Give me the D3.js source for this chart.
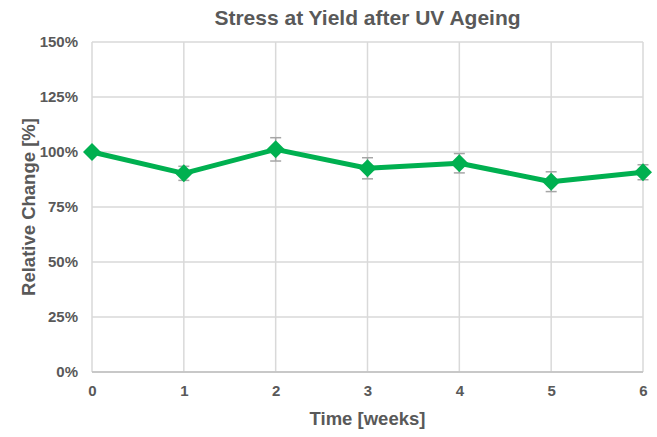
<!DOCTYPE html>
<html><head><meta charset="utf-8">
<script src="https://cdn.jsdelivr.net/npm/d3@7"></script>
<style>body{margin:0;background:#fff}svg{display:block}text{font-family:"Liberation Sans",Arial,sans-serif;font-weight:bold;fill:#595959}</style>
</head><body><svg id="c" width="657" height="437"></svg>
<script>
const weeks = [0, 1, 2, 3, 4, 5, 6];
const relChange = [100, 90.3, 101.2, 92.6, 94.9, 86.5, 90.8];
const errors = [0, 3.2, 5.3, 4.8, 4.4, 4.5, 3.4];
const yTicks = [0, 25, 50, 75, 100, 125, 150];
const xTicks = [0, 1, 2, 3, 4, 5, 6];

const svg = d3.select("#c");
const L = 92, R = 643, T = 42, B = 372;
const x = d3.scaleLinear().domain([0, 6]).range([L, R]);
const y = d3.scaleLinear().domain([0, 150]).range([B, T]);

// gridlines
svg.append("g").selectAll("line").data(yTicks).join("line")
  .attr("x1", L).attr("x2", R).attr("y1", d => y(d)).attr("y2", d => y(d))
  .attr("stroke", "#d9d9d9").attr("stroke-width", 1.5);
svg.append("g").selectAll("line").data(xTicks).join("line")
  .attr("x1", d => x(d)).attr("x2", d => x(d)).attr("y1", T).attr("y2", B)
  .attr("stroke", "#d9d9d9").attr("stroke-width", 1.5);
svg.append("line").attr("x1", L).attr("x2", R).attr("y1", y(0)).attr("y2", y(0))
  .attr("stroke", "#bfbfbf").attr("stroke-width", 1.5);

// y axis labels
const yAxis = d3.axisLeft(y).tickValues(yTicks).tickFormat(d => d + "%").tickSize(0).tickPadding(14);
const gy = svg.append("g").attr("transform", `translate(${L},0)`).call(yAxis);
gy.select(".domain").remove();
gy.selectAll("text").attr("font-size", 15).style("font-family", "Liberation Sans, Arial, sans-serif").style("font-weight", "bold").attr("fill", "#595959");

const xAxis = d3.axisBottom(x).tickValues(xTicks).tickFormat(d3.format("d")).tickSize(0).tickPadding(13);
const gx = svg.append("g").attr("transform", `translate(0,${B})`).call(xAxis);
gx.select(".domain").remove();
gx.selectAll("text").attr("font-size", 15).style("font-family", "Liberation Sans, Arial, sans-serif").style("font-weight", "bold").attr("fill", "#595959");

// error bars
const data = weeks.map((w, i) => ({w, v: relChange[i], e: errors[i]}));
const eb = svg.append("g").attr("stroke", "#a6a6a6").attr("stroke-width", 1.5);
data.filter(d => d.e > 0).forEach(d => {
  eb.append("line").attr("x1", x(d.w)).attr("x2", x(d.w)).attr("y1", y(d.v + d.e)).attr("y2", y(d.v - d.e));
  eb.append("line").attr("x1", x(d.w) - 5.5).attr("x2", x(d.w) + 5.5).attr("y1", y(d.v + d.e)).attr("y2", y(d.v + d.e));
  eb.append("line").attr("x1", x(d.w) - 5.5).attr("x2", x(d.w) + 5.5).attr("y1", y(d.v - d.e)).attr("y2", y(d.v - d.e));
});

// line
svg.append("path").datum(data)
  .attr("d", d3.line().x(d => x(d.w)).y(d => y(d.v)))
  .attr("fill", "none").attr("stroke", "#00b050").attr("stroke-width", 5).attr("stroke-linejoin", "round");

// markers
svg.append("g").selectAll("path").data(data).join("path")
  .attr("transform", d => `translate(${x(d.w)},${y(d.v)})`)
  .attr("d", "M0,-9L9,0L0,9L-9,0Z")
  .attr("fill", "#00b050");

// titles
svg.append("text").attr("x", (L + R) / 2).attr("y", 25).attr("text-anchor", "middle")
  .attr("font-size", 21).text("Stress at Yield after UV Ageing");
svg.append("text").attr("x", (L + R) / 2).attr("y", 425).attr("text-anchor", "middle")
  .attr("font-size", 18.5).text("Time [weeks]");
svg.append("text").attr("transform", `translate(35,${(T + B) / 2}) rotate(-90)`).attr("text-anchor", "middle")
  .attr("font-size", 18.5).text("Relative Change [%]");
</script></body></html>
